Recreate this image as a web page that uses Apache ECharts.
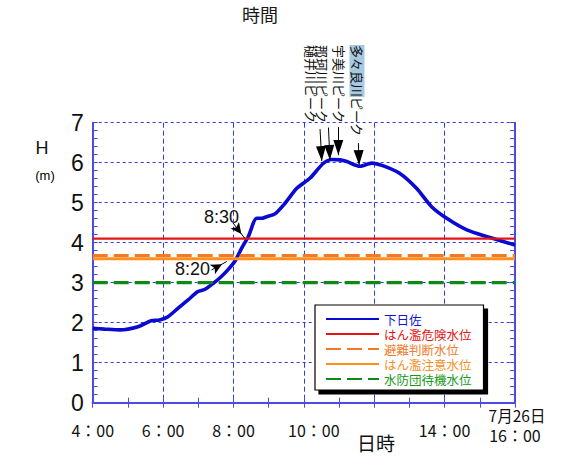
<!DOCTYPE html>
<html>
<head>
<meta charset="utf-8">
<script src="https://cdn.jsdelivr.net/npm/echarts@6/dist/echarts.min.js"></script>
<style>
html,body{margin:0;padding:0;background:#fff;}
#c{width:580px;height:468px;}
</style>
</head>
<body>
<div id="c"></div>
<script>
// ---- data ----
const hours  = [4.00,4.34,4.77,5.29,5.66,5.90,6.14,6.42,6.71,6.99,7.18,7.42,7.65,7.84,8.05,8.23,8.42,8.66,8.80,8.94,9.18,9.46,9.80,10.17,10.55,10.79,11.03,11.22,11.59,11.93,12.26,12.73,13.20,13.63,14.06,14.63,15.29,16.00];
const levels = [1.86,1.84,1.82,1.90,2.05,2.07,2.15,2.36,2.57,2.78,2.83,2.98,3.15,3.32,3.55,3.86,4.15,4.61,4.61,4.65,4.72,4.98,5.36,5.61,5.98,6.08,6.07,6.03,5.91,5.99,5.92,5.73,5.36,4.90,4.61,4.32,4.13,3.94];
const stationName = '下日佐';

const thresholdNames  = ['はん濫危険水位','避難判断水位','はん濫注意水位','水防団待機水位'];
const thresholdValues = [4.10, 3.68, 3.60, 3.00];

const tickHours  = [4, 6, 8, 10, 12, 14, 16];
const tickLabels = ['4：00','6：00','8：00','10：00','','14：00','16：00'];
const dateLabel = '7月26日';
const yTicks = [0,1,2,3,4,5,6,7];

const peakNames  = ['樋井川ピーク','那珂川ピーク','宇美川ピーク','多々良川ピーク'];
const peakStarts = [[10.46,6.84],[10.70,6.88],[10.98,6.89],[11.55,6.49]];
const peakTips   = [[10.51,6.04],[10.74,6.07],[10.98,6.19],[11.57,5.94]];

const crossLabels = ['8:30','8:20'];
const crossStarts = [[7.99,4.49],[7.38,3.32]];
const crossTips   = [[8.32,4.11],[7.81,3.53]];

// ---- styles ----
const CJK = "'Noto Sans CJK JP','Noto Sans',sans-serif";
const NARROW = "'Liberation Sans Narrow','Liberation Sans',sans-serif";
const AX = '#4a4ae6';
const GRIDC = '#3838e0';
const thresholdStyles = [
  {color:'#e41414', width:2.2, type:'solid'},
  {color:'#f07a28', width:3.2, type:[15,6]},
  {color:'#ff9020', width:3, type:'solid'},
  {color:'#0e8a14', width:3.2, type:[15,6]}
];
const legendTextColors = ['#1515d5','#e41414','#f07a28','#f59028','#159a1a'];

const dataPairs = hours.map((h,i)=>[h, levels[i]]);

const markData = [];
peakStarts.forEach((s,i)=>{
  markData.push([
    {coord:s, symbol:'none'},
    {coord:peakTips[i], symbol:'triangle', symbolSize:[10,15], symbolOffset:[0,7.5]}
  ]);
});
crossStarts.forEach((s,i)=>{
  markData.push([
    {coord:s, symbol:'none'},
    {coord:crossTips[i], symbol:'arrow', symbolSize:[8,11], symbolOffset:[0,5.5]}
  ]);
});

const series = [{
  name: stationName,
  type:'line',
  xAxisIndex:0, yAxisIndex:0,
  data: dataPairs,
  showSymbol:false, symbol:'none',
  smooth:0.25,
  lineStyle:{color:'#0a0ad2', width:3.6},
  itemStyle:{color:'#0a0ad2'},
  z:3,
  markLine:{
    silent:true, animation:false,
    lineStyle:{color:'#000', width:1, type:'solid'},
    label:{show:false},
    emphasis:{disabled:true},
    data: markData
  }
}];
thresholdNames.forEach((n,i)=>{
  series.push({
    name:n, type:'line', xAxisIndex:0, yAxisIndex:0,
    data:[[tickHours[0], thresholdValues[i]],[tickHours[tickHours.length-1], thresholdValues[i]]],
    showSymbol:false, symbol:'none',
    lineStyle:thresholdStyles[i], itemStyle:{color:thresholdStyles[i].color},
    z:4
  });
});

const txt = (x,y,text,opt)=>({
  type:'text', x:x, y:y, silent:true,
  style:Object.assign({text:text, fill:'#111', font:'14px '+CJK,
    align:'center', verticalAlign:'middle', textAlign:'center', textVerticalAlign:'middle'}, opt||{})
});

const graphics = [
  txt(260,14,'時間',{font:'18px '+CJK, fill:'#1a1a1a'}),
  txt(42,148,'H',{font:'18px '+NARROW}),
  txt(45,175,'(m)',{font:'13px '+NARROW, fill:'#000'}),
  txt(376,442,'日時',{font:'19px '+CJK}),
  txt(517,415,dateLabel,{font:'15.5px '+CJK}),
  txt(221.5,216.5,crossLabels[0],{font:'18px '+NARROW}),
  txt(192.5,269,crossLabels[1],{font:'18px '+NARROW})
];
const peakX = [311,322,339,357];
peakNames.forEach((n,i)=>{
  const isHL = i===3;
  graphics.push({
    type:'text', x:peakX[i], y:45, rotation:-Math.PI/2, silent:true,
    style:{
      text: isHL ? '{hl|多々良川}ピーク' : n,
      fill:'#111', font:'13px '+CJK,
      align:'left', verticalAlign:'middle', textAlign:'left', textVerticalAlign:'middle',
      rich: isHL ? {hl:{backgroundColor:'#a7c9e1', font:'13px '+CJK, fill:'#111', padding:[1,0,1,0]}} : undefined
    }
  });
});

const chart = echarts.init(document.getElementById('c'), null, {renderer:'svg', width:580, height:468});
chart.setOption({
  animation:false,
  backgroundColor:'#fff',
  grid:{left:92.7, right:65, top:122.7, bottom:65.3, containLabel:false},
  legend:{
    orient:'vertical', left:315, top:305,
    padding:[7,12,4,10],
    itemWidth:53, itemHeight:14, itemGap:1,
    itemStyle:{opacity:0},
    backgroundColor:'#fff', borderColor:'#000', borderWidth:1.2,
    shadowColor:'#000', shadowBlur:0, shadowOffsetX:4, shadowOffsetY:4,
    textStyle:{fontSize:12.5, fontFamily:CJK, lineHeight:14},
    data:[stationName].concat(thresholdNames).map((n,i)=>({name:n, textStyle:{color:legendTextColors[i]}})),
    selectedMode:false
  },
  xAxis:[{
    type:'value', position:'bottom', min:tickHours[0], max:tickHours[tickHours.length-1], interval:2,
    axisLine:{show:true, lineStyle:{color:AX, width:2}},
    axisTick:{show:true, inside:true, length:5, lineStyle:{color:AX, width:1}},
    minorTick:{show:true, splitNumber:2, length:5, lineStyle:{color:AX, width:1}},
    splitLine:{show:true, lineStyle:{color:GRIDC, width:1, type:[5,3]}},
    axisLabel:{
      margin:19, color:'#111', fontSize:16, fontFamily:CJK,
      formatter:(v)=>{
        const i = tickHours.indexOf(v);
        if (i<0) return '';
        if (v===10) return '{s|'+tickLabels[i]+'}';
        if (v===16) return '{e|'+tickLabels[i]+'}';
        return tickLabels[i];
      },
      rich:{
        s:{padding:[0,0,0,20], fontSize:16, fontFamily:CJK, color:'#111'},
        e:{padding:[5,0,0,0], fontSize:16, fontFamily:CJK, color:'#111'}
      }
    }
  },{
    type:'value', position:'top', min:tickHours[0], max:tickHours[tickHours.length-1], interval:2,
    axisLine:{show:true, lineStyle:{color:AX, width:2}},
    axisTick:{show:true, inside:true, length:5, lineStyle:{color:AX, width:1}},
    minorTick:{show:true, splitNumber:2, length:5, lineStyle:{color:AX, width:1}},
    splitLine:{show:false}, axisLabel:{show:false}
  }],
  yAxis:[{
    type:'value', position:'left', min:yTicks[0], max:yTicks[yTicks.length-1], interval:1,
    axisLine:{show:true, lineStyle:{color:AX, width:2}},
    axisTick:{show:true, inside:true, length:5, lineStyle:{color:AX, width:1}},
    minorTick:{show:true, splitNumber:5, length:5, lineStyle:{color:AX, width:1}},
    splitLine:{show:true, lineStyle:{color:GRIDC, width:1, type:[3,3]}},
    axisLabel:{margin:9, color:'#111', fontSize:23, fontFamily:NARROW}
  },{
    type:'value', position:'right', min:yTicks[0], max:yTicks[yTicks.length-1], interval:1,
    axisLine:{show:true, lineStyle:{color:AX, width:2}},
    axisTick:{show:true, inside:true, length:5, lineStyle:{color:AX, width:1}},
    minorTick:{show:true, splitNumber:5, length:5, lineStyle:{color:AX, width:1}},
    splitLine:{show:false}, axisLabel:{show:false}
  }],
  graphic: graphics,
  series: series
});
</script>
</body>
</html>
